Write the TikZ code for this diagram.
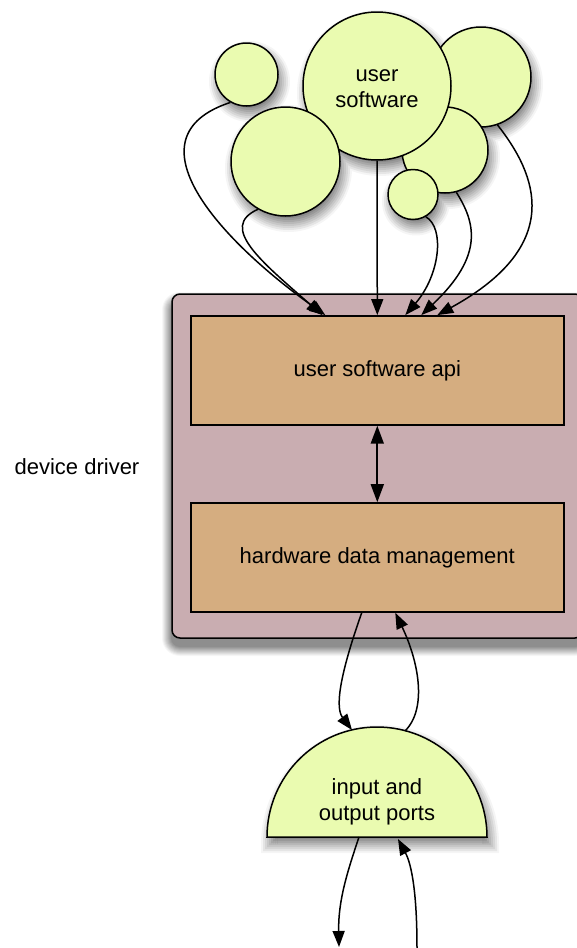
\documentclass[tikz,border=0pt]{standalone}
\usepackage{fontspec}
\setmainfont{Liberation Sans}
\usetikzlibrary{arrows.meta,calc}

\definecolor{bubblefill}{RGB}{234,251,176}
\definecolor{driverfill}{RGB}{201,173,177}
\definecolor{layerfill}{RGB}{213,173,128}

\tikzset{
  x=1pt, y=1pt,
  labelfont/.style={font=\fontsize{22}{25.7}\selectfont},
  bubble/.style={circle, draw=black, line width=1.5pt, fill=bubblefill,
      inner sep=0pt, labelfont, align=center},
  driverbox/.style={rectangle, rounded corners=8pt, draw=black, line width=1.5pt,
      fill=driverfill, inner sep=0pt},
  layer/.style={rectangle, draw=black, line width=1.6pt, fill=layerfill,
      minimum width=373pt, minimum height=109pt, inner sep=0pt, labelfont},
  flow/.style={-{Triangle[length=16pt, width=12pt]}, line width=1.5pt},
  bothways/.style={{Triangle[length=18pt,width=13pt]}-{Triangle[length=18pt,width=13pt]},
      line width=1.7pt},
}

% one band of a bubble's drop shadow (uses the band index \s and grey level \g)
\newcommand\shadowband[3]{%
  \fill[black!\g] ({#1+3},{#2-7}) circle[radius={(#3+9-2*\s)*1pt}];}

\begin{document}
\begin{tikzpicture}
  \useasboundingbox (0,0) rectangle (577,-948);
  \clip (0,0) rectangle (577,-948);

  % soft shadow of the device driver box: grey bands from light (outside) to dark (inside)
  \foreach \s in {0,...,9}{%
    \pgfmathsetmacro\g{3+4.6*\s}
    \fill[black!\g, rounded corners={(18-\s)*1pt}]
      ({172-10+\s},{-294-8+10-\s}) rectangle ({583+10-\s},{-638-8-10+\s});
  }
  % device driver container and its two layers
  \node[driverbox, minimum width=411pt, minimum height=344pt] (driver) at (377.5,-466) {};
  \node[labelfont] (ddlabel) at (77,-467) {device driver};
  \node[layer] (api) at (377.3,-370.4) {\raisebox{-2pt}{user software api}};
  \node[layer] (hdm) at (377.3,-557.5) {\raisebox{-2.5pt}{hardware data management}};
  \draw[bothways] (api.south) -- (hdm.north);

  % cluster of user programs: shadows first, so they all lie beneath the bubbles
  \foreach \s in {0,...,8}{%
    \pgfmathsetmacro\g{4+6*\s}
    \shadowband{481}{-77}{50}
    \shadowband{445}{-150}{43}
    \shadowband{377}{-86}{74}
    \shadowband{413}{-194.5}{25}
    \shadowband{285.5}{-161.5}{54.5}
    \shadowband{246.5}{-74.5}{31.5}
  }
  \node[bubble, minimum size=100pt] (c3) at (481,-77) {};
  \node[bubble, minimum size=86pt]  (c4) at (445,-150) {};
  \node[bubble, minimum size=148pt] (c0) at (377,-86) {};
  \node[labelfont, align=center] (c0text) at (377,-89) {user\\software};
  \node[bubble, minimum size=50pt]  (c5) at (413,-194.5) {};
  \node[bubble, minimum size=109pt] (c2) at (285.5,-161.5) {};
  \node[bubble, minimum size=63pt]  (c1) at (246.5,-74.5) {};

  % calls into the api layer
  \draw[flow] (c1.240) .. controls (125,-137) and (220,-240) .. ($(api.north)+(-52,0)$);
  \draw[flow] (c2.240) .. controls (218,-227) and (262,-262) .. ($(api.north)+(-55,0)$);
  \draw[flow] (c0.south) -- (api.north);
  \draw[flow] (c5.300) .. controls (445,-228) and (440,-275) .. ($(api.north)+(28,0)$);
  \draw[flow] (c4.285) .. controls (475,-222) and (485,-255) .. ($(api.north)+(44,0)$);
  \draw[flow] (c3.289) .. controls (537,-175) and (565,-245) .. ($(api.north)+(60,0)$);

  % input and output ports, with a soft shadow under the half disk
  \foreach \s in {0,...,8}{%
    \pgfmathsetmacro\g{4+6*\s}
    \fill[black!\g] ({267+3-9+2*\s},-844)
      arc[start angle=180, end angle=0, radius={(119-2*\s)*1pt}]
      -- ({487+3+9-2*\s},{-844-9+2*\s}) -- ({267+3-9+2*\s},{-844-9+2*\s}) -- cycle;
  }
  \path[draw=black, line width=1.5pt, fill=bubblefill]
    (267,-837) arc[start angle=180, end angle=0, radius=110pt] -- cycle;
  \node[labelfont, align=center] (ports) at (377,-802) {input and\\output ports};
  \coordinate (portsIn)  at (352,-730);
  \coordinate (portsOut) at (405,-731);
  \coordinate (portsLow) at (359,-837);
  \coordinate (portsRet) at (398,-839);
  \coordinate (extOut) at (339,-947);
  \coordinate (extIn)  at (417,-948);

  \draw[flow] ($(hdm.south)+(-15.6,0)$) .. controls (345,-660) and (333,-705) .. (portsIn);
  \draw[flow] (portsOut) .. controls (428,-708) and (418,-660) .. ($(hdm.south)+(18,0)$);
  \draw[flow] (portsLow) .. controls (348,-870) and (338,-900) .. (extOut);
  \draw[flow] (extIn) .. controls (417,-895) and (412,-865) .. (portsRet);
\end{tikzpicture}
\end{document}
